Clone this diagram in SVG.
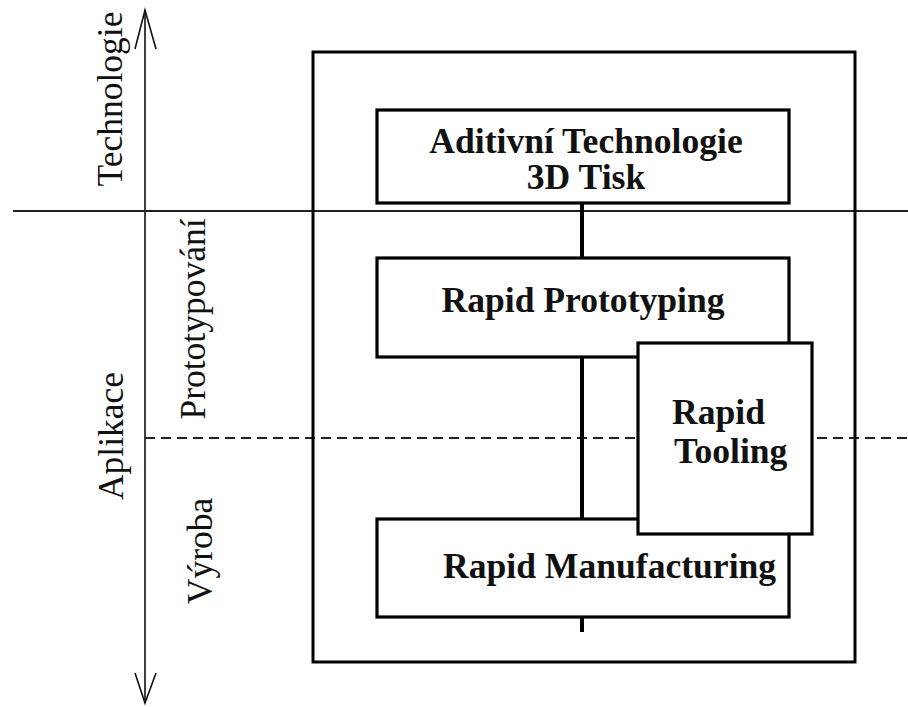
<svg xmlns="http://www.w3.org/2000/svg" width="908" height="707" viewBox="0 0 908 707">
  <style>
    .axis { stroke: #111; stroke-width: 1.6; fill: none; }
    .divider { stroke: #222; stroke-width: 1.8; fill: none; }
    .dashed { stroke: #222; stroke-width: 1.8; fill: none; stroke-dasharray: 10 6; }
    .frame { stroke: #000; stroke-width: 3; fill: none; }
    .box { stroke: #000; stroke-width: 3.2; fill: #fff; }
    .link { stroke: #000; stroke-width: 4; fill: none; }
    .side { font-family: "Liberation Serif", "Times New Roman", serif; font-size: 35.5px; fill: #111; text-anchor: middle; }
    .label { font-family: "Liberation Serif", "Times New Roman", serif; font-size: 35.6px; font-weight: bold; fill: #111; }
  </style>

  <rect width="908" height="707" fill="#fff"/>

  <!-- Axis with open arrowheads at both ends -->
  <g id="axis">
    <line class="axis" x1="145" y1="10" x2="145" y2="703"/>
    <polyline class="axis" points="135,49 145,10 156,49"/>
    <polyline class="axis" points="135,673 145,703 156,673"/>
  </g>

  <!-- Zone separators -->
  <g id="separators">
    <line class="divider" x1="13" y1="211" x2="908" y2="211"/>
    <line class="dashed" x1="145" y1="438" x2="908" y2="438"/>
  </g>

  <!-- Zone labels -->
  <g id="zone-labels">
    <text class="side" transform="translate(122,99) rotate(-90)">Technologie</text>
    <text class="side" transform="translate(123,436) rotate(-90)">Aplikace</text>
    <text class="side" transform="translate(205,319) rotate(-90)">Prototypování</text>
    <text class="side" transform="translate(212,551) rotate(-90)">Výroba</text>
  </g>

  <!-- Outer frame -->
  <rect id="frame" class="frame" x="313" y="52" width="542" height="610"/>

  <!-- Connectors -->
  <g id="connectors">
    <line class="link" x1="582" y1="203" x2="582" y2="258"/>
    <line class="link" x1="582" y1="357" x2="582" y2="519"/>
    <line class="link" x1="582" y1="617" x2="582" y2="632"/>
  </g>

  <g id="node-additive">
    <rect class="box" x="377" y="110" width="412" height="93"/>
    <text class="label" x="586" y="153" text-anchor="middle">Aditivní Technologie</text>
    <text class="label" x="586" y="189" text-anchor="middle">3D Tisk</text>
  </g>

  <g id="node-prototyping">
    <rect class="box" x="377" y="258" width="412" height="99"/>
    <text class="label" x="583" y="312" text-anchor="middle">Rapid Prototyping</text>
  </g>

  <g id="node-manufacturing">
    <rect class="box" x="377" y="519" width="412" height="98"/>
    <text class="label" x="443" y="578">Rapid Manufacturing</text>
  </g>

  <g id="node-tooling">
    <rect class="box" x="638" y="343" width="174" height="191"/>
    <text class="label" x="672" y="424">Rapid</text>
    <text class="label" x="674" y="463">Tooling</text>
  </g>
</svg>
